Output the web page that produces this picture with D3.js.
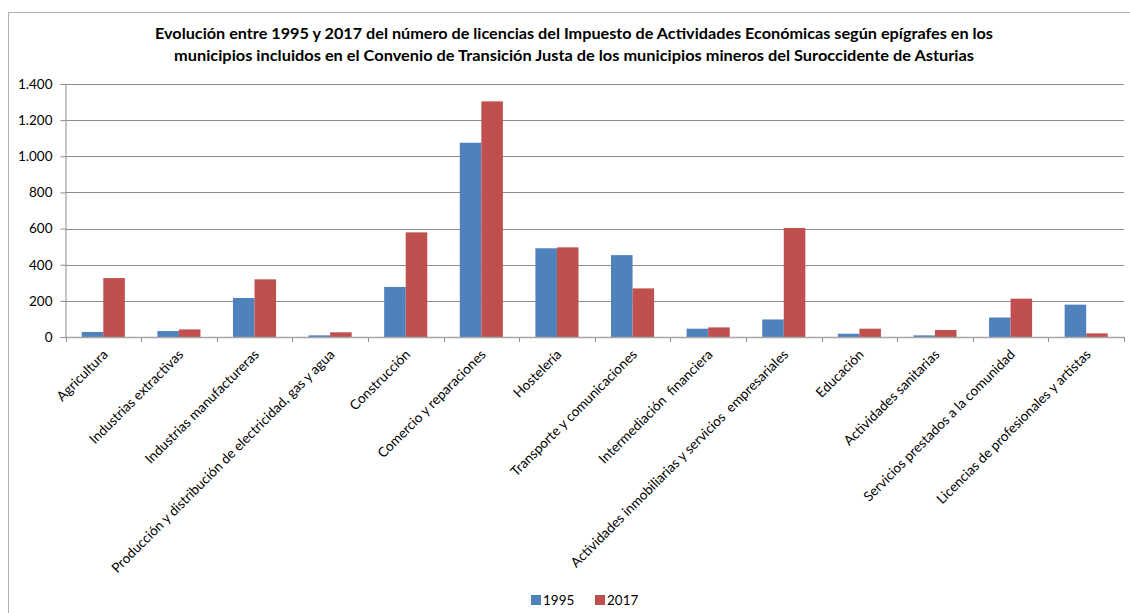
<!DOCTYPE html>
<html>
<head>
<meta charset="utf-8">
<script src="https://cdn.jsdelivr.net/npm/d3@7"></script>
<style>
  body { margin: 0; background: #fff; }
  svg { display: block; font-family: Lato, "Liberation Sans", sans-serif; }
  .cat-label { white-space: pre; }
</style>
</head>
<body>
<svg id="chart" width="1130" height="613"></svg>
<script>
// categorías (epígrafes IAE)
const categories = [
    "Agricultura",
    "Industrias extractivas",
    "Industrias manufactureras",
    "Producción y distribución de electricidad, gas y agua",
    "Construcción",
    "Comercio y reparaciones",
    "Hostelería",
    "Transporte y comunicaciones",
    "Intermediación  financiera",
    "Actividades inmobiliarias y servicios  empresariales",
    "Educación",
    "Actividades sanitarias",
    "Servicios prestados a la comunidad",
    "Licencias de profesionales y artistas"
]
const values1995 = [28, 33, 216, 9, 277, 1075, 491, 453, 46, 97, 18, 9, 108, 179]
const values2017 = [326, 42, 319, 26, 579, 1304, 496, 269, 53, 603, 46, 39, 212, 20]
const seriesNames = ["1995", "2017"]
const yTicks = [0, 200, 400, 600, 800, 1000, 1200, 1400]
const yTickLabels = ["0", "200", "400", "600", "800", "1.000", "1.200", "1.400"]
const titleLines = [
    "Evolución entre 1995 y 2017 del número de licencias del Impuesto de Actividades Económicas según epígrafes en los",
    "municipios incluidos en el Convenio de Transición Justa de los municipios mineros del Suroccidente de Asturias"
]

const colors = ["#4f81bd", "#c0504d"]
const gridColor = "#8c8c8c"

const svg = d3.select("#chart")

// marco del gráfico
svg.append("rect")
    .attr("x", 8.5).attr("y", 12.5)
    .attr("width", 1130).attr("height", 620)
    .attr("fill", "none").attr("stroke", "#b0b0b0")

// título
const titleWidths = [838, 800]
titleLines.forEach((t, i) => {
    svg.append("text")
        .attr("x", 574).attr("y", 39 + i * 22)
        .attr("text-anchor", "middle")
        .attr("font-weight", "bold")
        .attr("font-size", 14.5)
        .attr("fill", "#000")
        .attr("textLength", titleWidths[i])
        .attr("lengthAdjust", "spacingAndGlyphs")
        .text(t)
})

const plot = { left: 65.5, right: 1124, top: 84, bottom: 337 }

// gap width 150% como en Excel
const x0 = d3.scaleBand()
    .domain(categories)
    .range([plot.left, plot.right])
    .paddingInner(0.43)
    .paddingOuter(0.215)
const step = x0.step()

const x1 = d3.scaleBand()
    .domain(seriesNames)
    .range([0, x0.bandwidth()])

const y = d3.scaleLinear()
    .domain([0, 1400])
    .range([plot.bottom, plot.top])

// líneas de cuadrícula
svg.append("g")
    .selectAll("line")
    .data(yTicks.slice(1))
    .join("line")
    .attr("x1", plot.left).attr("x2", plot.right)
    .attr("y1", d => Math.round(y(d)) + 0.5)
    .attr("y2", d => Math.round(y(d)) + 0.5)
    .attr("stroke", gridColor).attr("stroke-width", 1)

// eje Y
const yAxis = svg.append("g")
    .attr("transform", `translate(${plot.left},0)`)
    .call(d3.axisLeft(y).tickValues(yTicks).tickSize(5).tickPadding(8)
        .tickFormat((d, i) => yTickLabels[i]))
yAxis.select(".domain").attr("stroke", gridColor)
yAxis.selectAll(".tick line").attr("stroke", gridColor)
yAxis.selectAll(".tick text")
    .attr("font-family", "Lato, sans-serif")
    .attr("font-size", 13.5)
    .attr("fill", "#000")

// barras
const groups = svg.append("g")
    .selectAll("g")
    .data(categories.map((c, i) => ({ cat: c, vals: [values1995[i], values2017[i]] })))
    .join("g")
    .attr("transform", d => `translate(${x0(d.cat)},0)`)

groups.selectAll("rect")
    .data(d => d.vals.map((v, j) => ({ key: seriesNames[j], v, j })))
    .join("rect")
    .attr("x", d => x1(d.key))
    .attr("y", d => y(d.v))
    .attr("width", x1.bandwidth())
    .attr("height", d => plot.bottom - y(d.v))
    .attr("fill", d => colors[d.j])

// eje X
const xAxisG = svg.append("g")
svg.append("line")
    .attr("x1", plot.left).attr("x2", plot.right)
    .attr("y1", plot.bottom + 0.5).attr("y2", plot.bottom + 0.5)
    .attr("stroke", "#a6a6a6").attr("stroke-width", 1.5)
xAxisG.selectAll("line")
    .data(d3.range(categories.length + 1))
    .join("line")
    .attr("x1", i => Math.round(plot.left + i * step) + 0.5)
    .attr("x2", i => Math.round(plot.left + i * step) + 0.5)
    .attr("y1", plot.bottom).attr("y2", plot.bottom + 5)
    .attr("stroke", gridColor)

// etiquetas de categorías giradas
svg.append("g")
    .selectAll("text")
    .data(categories)
    .join("text")
    .attr("class", "cat-label")
    .attr("transform", d => `translate(${x0(d) + x0.bandwidth() / 2 + 2},352) rotate(-45)`)
    .attr("text-anchor", "end")
    .attr("dy", "0.35em")
    .attr("font-size", 13.6)
    .attr("fill", "#000")
    .text(d => d)

// leyenda
const legend = svg.append("g")
const legendX = [531, 595]
seriesNames.forEach((s, i) => {
    legend.append("rect")
        .attr("x", legendX[i]).attr("y", 595)
        .attr("width", 10).attr("height", 10)
        .attr("fill", colors[i])
    legend.append("text")
        .attr("x", legendX[i] + 12).attr("y", 605)
        .attr("font-size", 13.5)
        .attr("fill", "#000")
        .text(s)
})
</script>
</body>
</html>
